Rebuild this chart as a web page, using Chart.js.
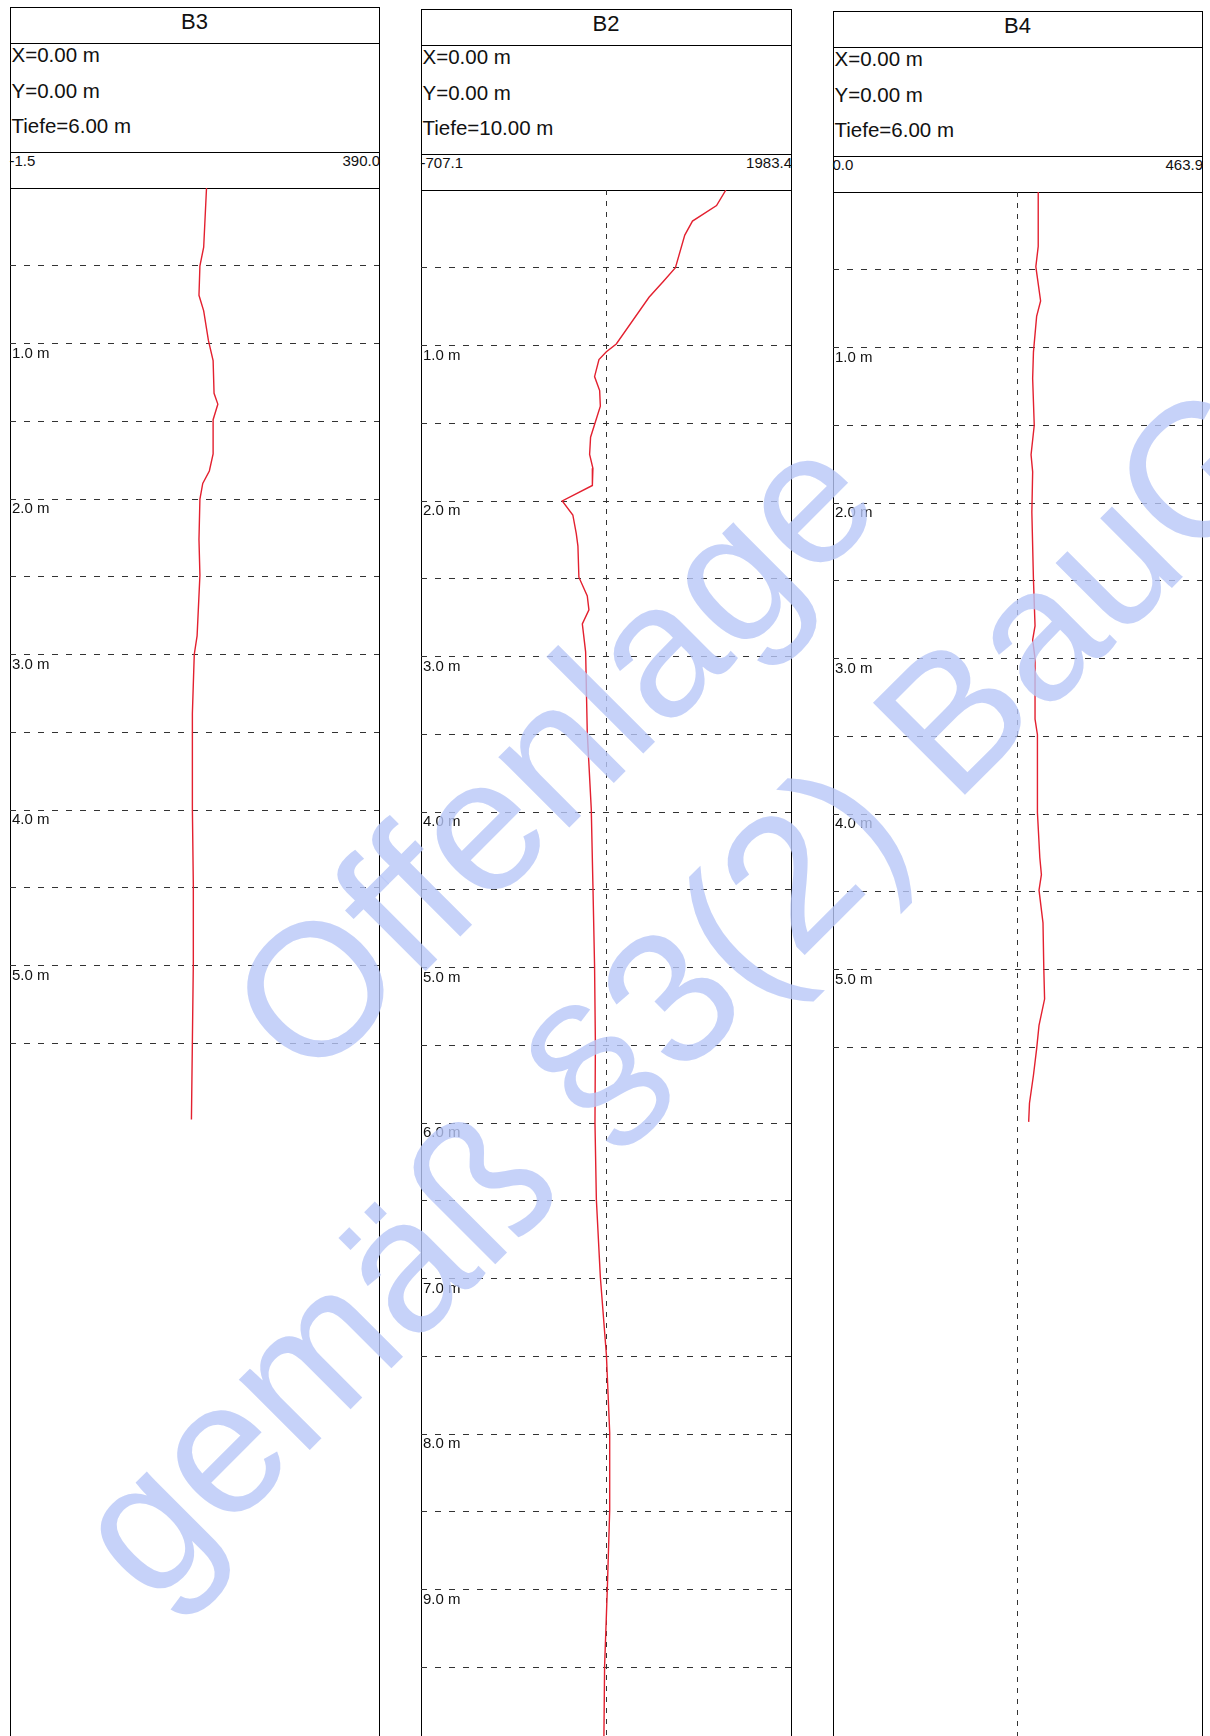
<!DOCTYPE html>
<html><head><meta charset="utf-8">
<script src="https://cdn.jsdelivr.net/npm/chart.js@4/dist/chart.umd.min.js"></script>
<style>
html,body{margin:0;padding:0;background:#fff;}
body{width:1210px;height:1736px;overflow:hidden;position:relative;font-family:"Liberation Sans",Arial,Helvetica,sans-serif;color:#111;}
.panel{position:absolute;box-sizing:border-box;border:1px solid #000;height:1900px;}
.hline{position:absolute;height:0;border-top:1px solid #000;}
.txt{position:absolute;line-height:1;white-space:nowrap;}
canvas{position:absolute;}
.wm{position:absolute;font-size:189px;line-height:1;color:rgba(184,199,248,0.8);white-space:nowrap;transform:translate(-50%,-50%) rotate(-45deg);pointer-events:none;z-index:10;}
</style></head>
<body>
<script>
// ---------- DATA ----------
const boreholes = ['B3', 'B2', 'B4'];
const infoB3 = ['X=0.00 m', 'Y=0.00 m', 'Tiefe=6.00 m'];
const infoB2 = ['X=0.00 m', 'Y=0.00 m', 'Tiefe=10.00 m'];
const infoB4 = ['X=0.00 m', 'Y=0.00 m', 'Tiefe=6.00 m'];
const rangeB3 = [-1.5, 390.0];
const rangeB2 = [-707.1, 1983.4];
const rangeB4 = [0.0, 463.9];
const depthTicks = [0.5, 1.0, 1.5, 2.0, 2.5, 3.0, 3.5, 4.0, 4.5, 5.0, 5.5, 6.0, 6.5, 7.0, 7.5, 8.0, 8.5, 9.0, 9.5];
const gridMaxB3 = 5.5, gridMaxB2 = 9.5, gridMaxB4 = 5.5;
const labelMaxB3 = 5, labelMaxB2 = 9, labelMaxB4 = 5;

const depthB3 = [0.00, 0.38, 0.50, 0.69, 0.79, 0.98, 1.11, 1.32, 1.39, 1.49, 1.71, 1.82, 1.90, 2.00, 2.26, 2.49, 2.88, 3.00, 3.38, 3.99, 4.48, 4.99, 5.49, 5.99];
const valueB3 = [207, 204, 200, 199, 204, 209, 214, 215, 219, 214, 214, 210, 203, 200, 199, 200, 197, 194, 192, 192, 193, 193, 192, 191];

const depthB2 = [0.00, 0.10, 0.20, 0.29, 0.50, 0.59, 0.69, 0.99, 1.04, 1.09, 1.20, 1.29, 1.39, 1.59, 1.70, 1.79, 1.90, 2.00, 2.09, 2.21, 2.29, 2.49, 2.61, 2.70, 2.79, 2.97, 3.49, 3.98, 4.47, 4.99, 5.49, 6.00, 6.49, 6.99, 7.49, 7.99, 8.49, 8.99, 9.49, 9.95];
const valueB2 = [1510, 1442, 1267, 1211, 1143, 1053, 951, 713, 641, 587, 555, 592, 597, 526, 519, 543, 539, 320, 397, 422, 434, 441, 502, 514, 466, 490, 502, 531, 543, 555, 561, 558, 568, 597, 641, 665, 665, 648, 628, 623];

const depthB4 = [0.00, 0.35, 0.48, 0.70, 0.80, 1.03, 1.20, 1.50, 1.69, 1.80, 2.06, 2.49, 2.79, 2.88, 3.00, 3.39, 3.49, 3.99, 4.28, 4.39, 4.49, 4.70, 4.99, 5.19, 5.36, 5.51, 5.68, 5.86, 5.98];
const valueB4 = [258, 258, 255, 261, 256, 252, 251, 253, 249, 251, 250, 252, 254, 251, 254, 254, 257, 257, 260, 262, 259, 264, 265, 266, 259, 256, 252, 247, 246];

const watermarkLines = ['Offenlage', 'gemäß §3(2) BauGB'];

// ---------- LAYOUT / STYLE ----------
const FONT = '"Liberation Sans", Arial, Helvetica, sans-serif';
const PAGE_H = 1736;
const PX_PER_M = 155.5;
const boxes = [{L: 10, R: 379, T: 7}, {L: 421, R: 791, T: 9}, {L: 833, R: 1202, T: 11}];
const wmPos = [{x: 552, y: 752}, {x: 722, y: 945}];

const panelData = [
  {info: infoB3, range: rangeB3, depth: depthB3, value: valueB3, gridMax: gridMaxB3, labelMax: labelMaxB3, vline: false},
  {info: infoB2, range: rangeB2, depth: depthB2, value: valueB2, gridMax: gridMaxB2, labelMax: labelMaxB2, vline: true},
  {info: infoB4, range: rangeB4, depth: depthB4, value: valueB4, gridMax: gridMaxB4, labelMax: labelMaxB4, vline: true}
];

function el(tag, cls, css, text) {
  const e = document.createElement(tag);
  if (cls) e.className = cls;
  Object.assign(e.style, css);
  if (text !== undefined) e.textContent = text;
  document.body.appendChild(e);
  return e;
}

boreholes.forEach((name, i) => {
  const b = boxes[i], p = panelData[i];
  const W = b.R - b.L;
  el('div', 'panel', {left: b.L + 'px', top: b.T + 'px', width: (W + 1) + 'px'});
  [36, 145, 181].forEach(off => el('div', 'hline', {left: b.L + 'px', width: (W + 1) + 'px', top: (b.T + off) + 'px'}));
  el('div', 'txt', {left: b.L + 'px', width: W + 'px', textAlign: 'center', top: (b.T + 3.7) + 'px', fontSize: '22px'}, name);
  p.info.forEach((t, k) => el('div', 'txt', {left: (b.L + 1.5) + 'px', top: (b.T + 38 + k * 35.5) + 'px', fontSize: '20.5px'}, t));
  el('div', 'txt', {left: (b.L - 0.5) + 'px', top: (b.T + 145.8) + 'px', fontSize: '15px'}, p.range[0].toFixed(1));
  el('div', 'txt', {right: (1210 - b.R - 1) + 'px', top: (b.T + 145.8) + 'px', fontSize: '15px'}, p.range[1].toFixed(1));

  const top = b.T + 181;
  const H = PAGE_H - top;
  const yMax = H / PX_PER_M;
  const cv = el('canvas', '', {left: b.L + 'px', top: top + 'px', width: W + 'px', height: H + 'px'});
  cv.width = W; cv.height = H;
  const vgrid = p.vline ? [(p.range[0] + p.range[1]) / 2] : [];
  const pts = p.depth.map((d, k) => ({x: p.value[k], y: d}));
  const zero = s => { s.paddingLeft = 0; s.paddingRight = 0; s.paddingTop = 0; s.paddingBottom = 0; };
  new Chart(cv, {
    type: 'scatter',
    data: {datasets: [{data: pts, showLine: true, borderColor: '#e3202f', borderWidth: 1.4, pointRadius: 0, pointHoverRadius: 0, tension: 0, fill: false}]},
    options: {
      responsive: false, animation: false, events: [], devicePixelRatio: 1,
      layout: {padding: 0, autoPadding: false},
      plugins: {legend: {display: false}, tooltip: {enabled: false}, title: {display: false}},
      scales: {
        x: {
          type: 'linear', position: 'top', min: p.range[0], max: p.range[1],
          grid: {display: vgrid.length > 0, color: '#333', lineWidth: 1, drawTicks: false},
          border: {display: false, dash: [5, 6]},
          ticks: {display: false},
          afterBuildTicks: s => { s.ticks = vgrid.map(v => ({value: v})); },
          afterFit: s => { s.height = 0; zero(s); }
        },
        y: {
          type: 'linear', reverse: true, min: 0, max: yMax,
          grid: {color: c => (c.tick && c.tick.value <= p.gridMax) ? '#333' : 'rgba(0,0,0,0)', lineWidth: 1, drawTicks: false},
          border: {display: false, dash: [6, 8]},
          ticks: {
            mirror: true, padding: 2, labelOffset: 10, color: '#111',
            font: {family: FONT, size: 15},
            callback: v => (Number.isInteger(v) && v <= p.labelMax) ? v.toFixed(1) + ' m' : ''
          },
          afterBuildTicks: s => { s.ticks = depthTicks.map(v => ({value: v})); },
          afterFit: s => { s.width = 0; zero(s); }
        }
      }
    }
  });
});

watermarkLines.forEach((t, i) => el('div', 'wm', {left: wmPos[i].x + 'px', top: wmPos[i].y + 'px'}, t));
</script>
</body></html>
